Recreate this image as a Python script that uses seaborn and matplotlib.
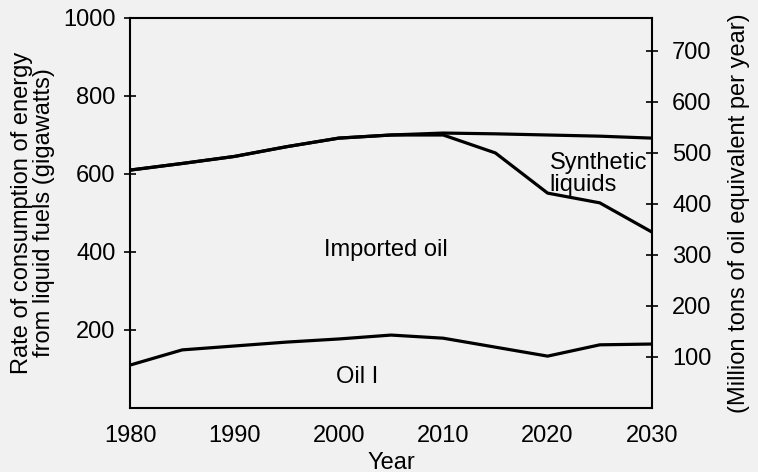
import matplotlib
matplotlib.use("Agg")
import matplotlib.pyplot as plt
import seaborn as sns
import pandas as pd

years = [1980, 1985, 1990, 1995, 2000, 2005, 2010, 2015, 2020, 2025, 2030]
total_liquids = [610, 627, 645, 670, 692, 700, 705, 703, 700, 697, 692]
oil_plus_imports = [610, 627, 645, 670, 692, 700, 700, 654, 551, 526, 451]
domestic_oil = [110, 149, 159, 169, 177, 187, 179, 156, 133, 162, 164]

left_ticks = [200, 400, 600, 800, 1000]
right_ticks = [100, 200, 300, 400, 500, 600, 700]
x_label_ticks = [1980, 1990, 2000, 2010, 2020, 2030]

sns.set_theme(style="white")
plt.rcParams['font.family'] = ['Liberation Sans', 'DejaVu Sans']
plt.rcParams['text.color'] = 'black'
plt.rcParams['axes.labelcolor'] = 'black'

fs = 17
bg = "#f1f1f1"
fig = plt.figure(figsize=(7.58, 4.72), dpi=100, facecolor=bg)
ax = fig.add_axes([130/758, 1-408/472, (652-130)/758, (408-18)/472])
ax.set_facecolor(bg)

df = pd.DataFrame({"year": years, "total": total_liquids,
                   "oilimp": oil_plus_imports, "dom": domestic_oil})
for col in ["total", "oilimp", "dom"]:
    sns.lineplot(data=df, x="year", y=col, ax=ax, color="black", lw=2.3)

ax.set_xlim(1980, 2030)
ax.set_ylim(0, 1000)
ax.set_xticks(range(1980, 2031, 5))
ax.set_xticklabels([str(y) if y in x_label_ticks else "" for y in range(1980, 2031, 5)])
ax.set_yticks(left_ticks)
ax.set_yticklabels([str(t) for t in left_ticks])
ax.tick_params(axis="both", direction="inout", length=9, width=1.2, colors="black",
               labelsize=fs)
ax.tick_params(axis="x", pad=8)
ax.tick_params(axis="y", pad=6)
for s in ax.spines.values():
    s.set_color("black")
    s.set_linewidth(1.5)
ax.set_xlabel("Year", fontsize=fs, labelpad=3)
ax.set_ylabel("Rate of consumption of energy\nfrom liquid fuels (gigawatts)",
              fontsize=fs, labelpad=6, linespacing=0.95)

ax2 = ax.twinx()
ax2.set_ylim(0, 1000 / 1.308)
ax2.set_yticks(right_ticks)
ax2.set_yticklabels([str(t) for t in right_ticks])
ax2.tick_params(axis="y", direction="inout", length=9, width=1.2, colors="black",
                labelsize=fs, pad=10)
for s in ax2.spines.values():
    s.set_visible(False)
ax2.set_ylabel("(Million tons of oil equivalent per year)", fontsize=fs, labelpad=12)
ax2.grid(False)

ax.text(2004.5, 405, "Imported oil", fontsize=fs, ha="center", va="center")
ax.text(2001.8, 80, "Oil I", fontsize=fs, ha="center", va="center")
ax.text(2020.2, 600, "Synthetic\nliquids", fontsize=fs, ha="left", va="center",
        linespacing=0.95)

fig.savefig("out.png", dpi=100, facecolor=bg)
